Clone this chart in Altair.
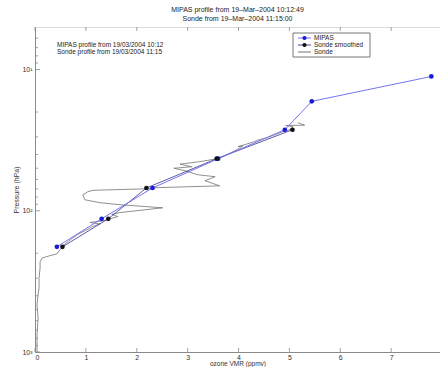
import altair as alt
import pandas as pd

# Ozonesonde profile (ascent order): ozone VMR (ppmv) and pressure (hPa)
sonde_o3 = [0.04, 0.04, 0.06, 0.04, 0.06, 0.08, 0.08, 0.10, 0.10, 0.14, 0.29, 0.43,
            0.49, 0.55, 0.69, 0.83, 1.02, 1.16, 1.28, 1.08, 1.34, 1.47, 1.63, 1.51,
            1.67, 2.51, 1.67, 1.28, 0.98, 0.94, 1.04, 1.14, 2.20, 2.36, 3.63, 3.34,
            3.54, 3.20, 2.95, 2.73, 3.08, 2.85, 3.24, 3.58, 3.77, 3.97, 4.09, 3.99,
            4.28, 4.38, 4.56, 4.72, 4.87, 5.01, 5.07, 4.93, 5.30, 5.17]
sonde_p = [1000, 757, 574, 464, 394, 351, 299, 254, 230, 216, 208, 202,
           189, 177, 161, 148, 136, 128, 124, 121, 118, 114, 110, 106,
           103, 95.3, 90.6, 87.7, 83.6, 77.1, 73.3, 71.6, 69.9, 68.7, 66.6, 61.3,
           57.4, 55.6, 52.1, 50.0, 48.8, 46.8, 44.9, 42.8, 40.1, 36.9, 34.6, 35.2,
           32.7, 31.6, 30.4, 28.9, 27.5, 26.7, 25.4, 24.9, 24.8, 23.8]

# MIPAS retrieval
mipas_o3 = [0.43, 1.31, 2.31, 3.60, 4.91, 5.44, 7.79]
mipas_p = [180, 114, 69.0, 42.8, 26.7, 16.8, 11.2]

# Sonde smoothed onto the MIPAS levels
smooth_o3 = [0.54, 1.44, 2.19, 3.57, 5.06]
smooth_p = [180, 114, 69.0, 42.8, 26.7]

x_ticks = [0, 1, 2, 3, 4, 5, 6, 7]
y_major = [10, 100, 1000]
y_minor = [6, 7, 8, 9, 20, 30, 40, 50, 60, 70, 80, 90,
           200, 300, 400, 500, 600, 700, 800, 900]

W, H = 405, 325
FONT = "Liberation Sans"
AXC = "#8a8a8a"

sonde = pd.DataFrame({"o3": sonde_o3, "p": sonde_p, "i": range(len(sonde_o3))})
mipas = pd.DataFrame({"o3": mipas_o3, "p": mipas_p, "i": range(len(mipas_o3))})
smooth = pd.DataFrame({"o3": smooth_o3, "p": smooth_p, "i": range(len(smooth_o3))})

x_enc = alt.X(
    "o3:Q",
    scale=alt.Scale(domain=[0, 7.96], nice=False, zero=False),
    axis=alt.Axis(values=x_ticks, ticks=False, grid=False, domainColor=AXC,
                  labelFontSize=7, labelPadding=1, labelColor="#333",
                  labelFont=FONT, title="ozone VMR (ppmv)", titleFont=FONT,
                  titleFontSize=6.5, titleFontWeight="normal", titleColor="#333",
                  titlePadding=0),
)
y_enc = alt.Y(
    "p:Q",
    scale=alt.Scale(type="log", domain=[5, 1000], reverse=True, nice=False),
    axis=alt.Axis(values=y_major, ticks=False, grid=False, domainColor=AXC,
                  labelExpr="datum.value == 10 ? '10¹' : datum.value == 100 ? '10²' : '10³'",
                  labelFontSize=7, labelPadding=3, labelColor="#333", labelFont=FONT,
                  title="Pressure (hPa)", titleFont=FONT, titleFontSize=7,
                  titleFontWeight="normal", titleColor="#333", titlePadding=2),
)

sonde_line = alt.Chart(sonde).mark_line(color="#747474", strokeWidth=0.8).encode(
    x=x_enc, y=y_enc, order="i:Q")
smooth_line = alt.Chart(smooth).mark_line(color="#4b4b9a", strokeWidth=0.9).encode(
    x=x_enc, y=y_enc, order="i:Q")
mipas_line = alt.Chart(mipas).mark_line(color="#7474f0", strokeWidth=1).encode(
    x=x_enc, y=y_enc, order="i:Q")
mipas_pts = alt.Chart(mipas).mark_circle(color="#1a1ad8", size=22, opacity=1).encode(
    x=x_enc, y=y_enc)
smooth_pts = alt.Chart(smooth).mark_circle(color="#111111", size=22, opacity=1).encode(
    x=x_enc, y=y_enc)

# Inward tick marks on the bottom and top edges and on the left edge
xt = pd.DataFrame({"o3": x_ticks})
xt_bottom = alt.Chart(xt).mark_rule(color=AXC, strokeWidth=0.8).encode(
    x=x_enc, y=alt.value(H), y2=alt.value(H - 4))
xt_top = alt.Chart(xt).mark_rule(color=AXC, strokeWidth=0.8).encode(
    x=x_enc, y=alt.value(0), y2=alt.value(4))
ytM = alt.Chart(pd.DataFrame({"p": y_major})).mark_rule(color=AXC, strokeWidth=0.8).encode(
    y=y_enc, x=alt.value(0), x2=alt.value(5))
ytm = alt.Chart(pd.DataFrame({"p": y_minor})).mark_rule(color=AXC, strokeWidth=0.8).encode(
    y=y_enc, x=alt.value(0), x2=alt.value(3))

# Annotation in the upper-left corner
notes = pd.DataFrame({
    "t": ["MIPAS profile from 19/03/2004 10:12", "Sonde profile from 19/03/2004 11:15"],
    "yy": [18, 25],
})
note_txt = alt.Chart(notes).mark_text(align="left", baseline="middle", font=FONT,
                                      fontSize=6.5, color="#222").encode(
    x=alt.value(22), y=alt.Y("yy:Q", scale=None), text="t:N")

# Legend box
one = pd.DataFrame({"k": [0]})
leg_box = alt.Chart(one).mark_rect(fill="white", stroke="#555", strokeWidth=0.8).encode(
    x=alt.value(258), x2=alt.value(335), y=alt.value(6), y2=alt.value(30))
leg = pd.DataFrame({
    "t": ["MIPAS", "Sonde smoothed", "Sonde"],
    "yy": [11, 18, 25],
    "c": ["#7474f0", "#4b4b9a", "#747474"],
    "d": ["#1a1ad8", "#111111", "none"],
})
leg_lines = alt.Chart(leg).mark_rule(strokeWidth=1).encode(
    x=alt.value(263), x2=alt.value(276), y=alt.Y("yy:Q", scale=None),
    color=alt.Color("c:N", scale=None))
leg_dots = alt.Chart(leg.iloc[:2]).mark_circle(size=18, opacity=1).encode(
    x=alt.value(269.5), y=alt.Y("yy:Q", scale=None),
    color=alt.Color("d:N", scale=None))
leg_txt = alt.Chart(leg).mark_text(align="left", baseline="middle", font=FONT,
                                   fontSize=6.5, color="#222").encode(
    x=alt.value(279), y=alt.Y("yy:Q", scale=None), text="t:N")

chart = alt.layer(
    sonde_line, smooth_line, mipas_line, mipas_pts, smooth_pts,
    xt_bottom, xt_top, ytM, ytm, note_txt,
    leg_box, leg_lines, leg_dots, leg_txt,
).properties(
    width=W, height=H,
    title=alt.TitleParams(
        text=["MIPAS profile from 19–Mar–2004 10:12:49", "Sonde from 19–Mar–2004 11:15:00"],
        font=FONT, fontSize=7, fontWeight="normal", color="#222",
        anchor="middle", lineHeight=9, offset=5),
    autosize=alt.AutoSizeParams(type="none"),
    padding={"left": 35, "top": 27, "right": 0, "bottom": 15},
).configure_view(stroke=AXC, strokeWidth=1).configure(background="white")

chart.save("out.html", embed_options={"renderer": "svg", "actions": False})
